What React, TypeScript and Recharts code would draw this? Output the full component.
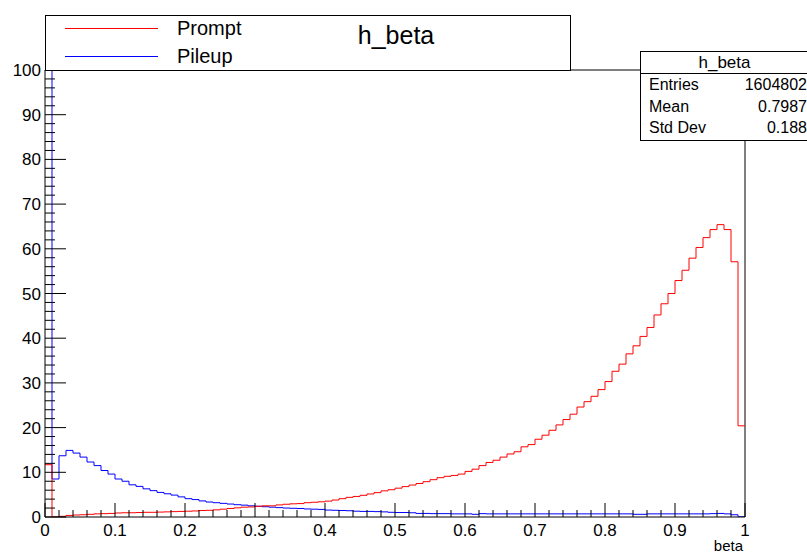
import { ComposedChart, Line, XAxis, YAxis, ReferenceLine } from "recharts";

// ROOT-style histogram h_beta: 100 bins over [0, 1]
const binWidth = 0.01;

const promptCounts = [
  11.7, 0.0, 0.15, 0.35, 0.45, 0.5, 0.6, 0.7, 0.75, 0.8,
  0.9, 0.95, 0.95, 1.0, 1.05, 1.05, 1.1, 1.15, 1.2, 1.25,
  1.3, 1.35, 1.45, 1.5, 1.6, 1.75, 1.9, 2.05, 2.2, 2.25,
  2.4, 2.5, 2.5, 2.7, 2.85, 2.95, 3.0, 3.2, 3.3, 3.4,
  3.55, 3.8, 4.1, 4.4, 4.6, 4.85, 5.15, 5.45, 5.85, 6.1,
  6.45, 6.8, 7.15, 7.5, 7.9, 8.35, 8.8, 9.1, 9.3, 9.6,
  10.2, 10.7, 11.5, 12.2, 12.7, 13.4, 14.1, 14.6, 15.7, 16.2,
  17.4, 18.3, 19.4, 20.6, 21.8, 23.0, 24.6, 25.8, 27.0, 28.5,
  30.3, 32.6, 34.2, 36.5, 38.3, 40.4, 42.4, 45.2, 47.7, 50.0,
  52.9, 55.2, 57.9, 60.3, 62.5, 64.3, 65.4, 64.3, 57.1, 20.4,
];

const pileupCounts = [
  140, 8.5, 13.7, 14.9, 14.3, 13.4, 12.3, 11.5, 10.4, 9.6,
  8.5, 8.0, 7.2, 6.85, 6.3, 5.9, 5.5, 5.2, 4.9, 4.5,
  4.1, 3.9, 3.6, 3.35, 3.2, 3.05, 2.9, 2.75, 2.65, 2.5,
  2.4, 2.3, 2.2, 2.1, 2.0, 1.95, 1.9, 1.8, 1.75, 1.7,
  1.55, 1.5, 1.45, 1.4, 1.3, 1.25, 1.25, 1.2, 1.15, 1.05,
  1.0, 1.0, 0.95, 0.8, 0.8, 0.75, 0.75, 0.75, 0.7, 0.7,
  0.7, 0.6, 0.75, 0.7, 0.7, 0.7, 0.7, 0.7, 0.7, 0.7,
  0.7, 0.7, 0.7, 0.7, 0.7, 0.7, 0.7, 0.7, 0.7, 0.7,
  0.7, 0.7, 0.7, 0.7, 0.6, 0.6, 0.7, 0.7, 0.7, 0.7,
  0.7, 0.7, 0.7, 0.7, 0.7, 0.75, 0.8, 0.7, 0.5, 0.05,
];

const xTickLabels = ["0", "0.1", "0.2", "0.3", "0.4", "0.5", "0.6", "0.7", "0.8", "0.9", "1"];
const yTickLabels = ["0", "10", "20", "30", "40", "50", "60", "70", "80", "90", "100"];

const statsRows = [
  ["Entries", "1604802"],
  ["Mean", "0.7987"],
  ["Std Dev", "0.188"],
];

// one extra point at x = 1 closes the last bin
const histData = [...promptCounts, promptCounts[promptCounts.length - 1]].map((_, i) => {
  const k = Math.min(i, promptCounts.length - 1);
  return {
    beta: Number((i * binWidth).toFixed(2)),
    prompt: promptCounts[k],
    pileup: pileupCounts[k],
  };
});

const xTicks = Array.from({ length: 51 }, (_, i) => Number((i * 0.02).toFixed(2)));
const yTicks = Array.from({ length: 51 }, (_, i) => i * 2);

const FONT = '"Liberation Sans", Arial, Helvetica, sans-serif';

// eslint-disable-next-line @typescript-eslint/no-explicit-any
const XTick = (props: any) => {
  const { x, y, payload } = props;
  const step = Math.round(payload.value * 50);
  const major = step % 5 === 0;
  return (
    <g>
      <line x1={x} x2={x} y1={y} y2={y - (major ? 14 : 7)} stroke="#000" />
      {major && (
        <text x={x} y={y + 19} textAnchor="middle" fontSize={17} fontFamily={FONT} fill="#000">
          {xTickLabels[step / 5]}
        </text>
      )}
    </g>
  );
};

// eslint-disable-next-line @typescript-eslint/no-explicit-any
const YTick = (props: any) => {
  const { x, y, payload } = props;
  const major = payload.value % 10 === 0;
  return (
    <g>
      <line x1={x} x2={x + (major ? 21 : 10)} y1={y} y2={y} stroke="#000" />
      {major && (
        <text x={x - 4} y={y + 6} textAnchor="end" fontSize={17} fontFamily={FONT} fill="#000">
          {yTickLabels[payload.value / 10]}
        </text>
      )}
    </g>
  );
};

export default function App() {
  return (
    <div
      style={{
        position: "absolute",
        left: 0,
        top: 0,
        width: 807,
        height: 553,
        background: "#fff",
        overflow: "hidden",
        fontFamily: FONT,
      }}
    >
      <ComposedChart
        width={807}
        height={553}
        data={histData}
        margin={{ top: 70, right: 62, bottom: 0, left: 0 }}
      >
        <XAxis
          dataKey="beta"
          type="number"
          domain={[0, 1]}
          ticks={xTicks}
          interval={0}
          height={36}
          tickSize={0}
          tickMargin={0}
          tickLine={false}
          axisLine={{ stroke: "#000" }}
          tick={<XTick />}
        />
        <YAxis
          type="number"
          domain={[0, 100]}
          allowDataOverflow
          ticks={yTicks}
          interval={0}
          width={45}
          tickSize={0}
          tickMargin={0}
          tickLine={false}
          axisLine={{ stroke: "#000" }}
          tick={<YTick />}
        />
        <ReferenceLine y={100} stroke="#000" ifOverflow="visible" />
        <ReferenceLine x={1} stroke="#000" ifOverflow="visible" />
        <Line
          dataKey="pileup"
          type="stepAfter"
          stroke="#0000ff"
          strokeWidth={1}
          dot={false}
          activeDot={false}
          isAnimationActive={false}
        />
        <Line
          dataKey="prompt"
          type="stepAfter"
          stroke="#ff0000"
          strokeWidth={1}
          dot={false}
          activeDot={false}
          isAnimationActive={false}
        />
      </ComposedChart>

      {/* axis title */}
      <div style={{ position: "absolute", right: 64, top: 539, fontSize: 15, lineHeight: "14px" }}>beta</div>

      {/* legend box */}
      <div
        style={{
          position: "absolute",
          left: 45,
          top: 15,
          width: 526,
          height: 56,
          border: "1px solid #000",
          boxSizing: "border-box",
          background: "#fff",
        }}
      >
        <svg width={524} height={54} style={{ position: "absolute", left: 0, top: 0 }}>
          <line x1={19} x2={112} y1={12.5} y2={12.5} stroke="#ff0000" />
          <line x1={19} x2={112} y1={40.5} y2={40.5} stroke="#0000ff" />
          <text x={131} y={19} fontSize={20} fontFamily={FONT} fill="#000">Prompt</text>
          <text x={131} y={47} fontSize={20} fontFamily={FONT} fill="#000">Pileup</text>
        </svg>
      </div>

      {/* title */}
      <div
        style={{
          position: "absolute",
          left: 296,
          width: 200,
          top: 20,
          textAlign: "center",
          fontSize: 25,
          lineHeight: "30px",
        }}
      >
        h_beta
      </div>

      {/* stats box */}
      <div
        style={{
          position: "absolute",
          left: 640,
          top: 51,
          width: 180,
          height: 90,
          border: "1px solid #000",
          boxSizing: "border-box",
          background: "#fff",
        }}
      >
        <div
          style={{
            width: 167,
            height: 21,
            borderBottom: "1px solid #000",
            textAlign: "center",
            fontSize: 17,
            lineHeight: "21px",
          }}
        >
          h_beta
        </div>
        {statsRows.map(([k, v]) => (
          <div
            key={k}
            style={{ display: "flex", justifyContent: "space-between", width: 158, paddingLeft: 8, fontSize: 16, lineHeight: "21.5px" }}
          >
            <span>{k}</span>
            <span>{v}</span>
          </div>
        ))}
      </div>
    </div>
  );
}
